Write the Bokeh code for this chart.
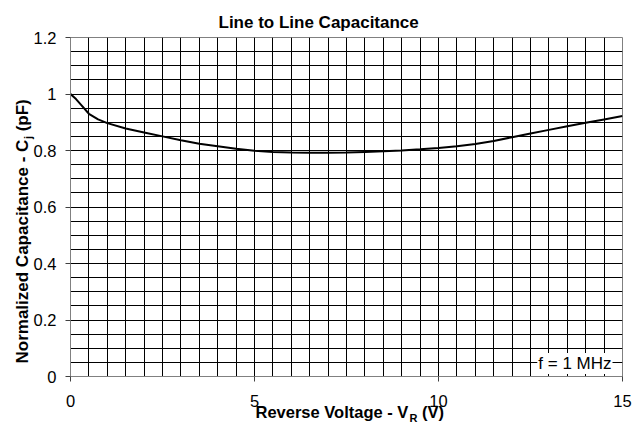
from bokeh.plotting import figure
from bokeh.models import Range1d, FixedTicker, Label, Title
from bokeh.embed import file_html
from bokeh.resources import INLINE

# ---- data ----
voltage = [0, 0.15, 0.3, 0.5, 0.75, 1, 1.5, 2, 2.5, 3, 3.5, 4, 4.5, 5, 5.5, 6,
           6.5, 7, 7.5, 8, 8.5, 9, 9.5, 10, 10.5, 11, 11.5, 12, 12.5, 13, 13.5,
           14, 14.5, 15]
capacitance = [1.0, 0.982, 0.96, 0.93, 0.91, 0.897, 0.878, 0.864, 0.85, 0.836,
               0.824, 0.815, 0.806, 0.799, 0.795, 0.793, 0.792, 0.792, 0.793,
               0.795, 0.797, 0.800, 0.804, 0.809, 0.815, 0.823, 0.834, 0.847,
               0.860, 0.873, 0.886, 0.898, 0.910, 0.922]
x_ticks = [0, 5, 10, 15]
y_ticks = [0, 0.2, 0.4, 0.6, 0.8, 1.0, 1.2]
y_tick_labels = ["0", "0.2", "0.4", "0.6", "0.8", "1", "1.2"]
x_grid_step = 0.5
y_grid_step = 0.05

title_text = "Line to Line Capacitance"
x_label_parts = ["Reverse Voltage - V", "R", "(V)"]
y_label_parts = ["Normalized Capacitance - C", "j", "(pF)"]
note_text = "f = 1 MHz"

FONT = "Liberation Sans"
GRAY = "#808080"

# approximate Arial Bold advance widths (per 1000 em)
BW = {' ': 278, '(': 333, ')': 333, '-': 333, 'C': 722, 'F': 611, 'N': 722,
      'R': 722, 'V': 667, 'a': 556, 'c': 556, 'd': 611, 'e': 556, 'g': 611,
      'i': 278, 'j': 278, 'l': 278, 'm': 889, 'n': 611, 'o': 611, 'p': 611,
      'r': 389, 's': 556, 't': 333, 'v': 556, 'z': 500}


def tw(s, size):
    return sum(BW.get(ch, 556) for ch in s) * size / 1000.0


def th(size):
    # estimated text box height used by Bokeh for a title of this font size
    return 1.15 * size


p = figure(width=644, height=427, output_backend="svg", toolbar_location=None,
           x_range=Range1d(0, 15), y_range=Range1d(0, 1.2),
           min_border_left=70, min_border_right=22, min_border_top=37,
           min_border_bottom=51)
p.background_fill_color = "white"
p.border_fill_color = "white"
p.outline_line_color = GRAY
p.outline_line_width = 1

# grids
nx = int(round(15 / x_grid_step))
ny = int(round(1.2 / y_grid_step))
p.xgrid.ticker = FixedTicker(ticks=[i * x_grid_step for i in range(1, nx)])
p.ygrid.ticker = FixedTicker(ticks=[i * y_grid_step for i in range(1, ny)])
for g in (p.xgrid, p.ygrid):
    g.grid_line_color = "black"
    g.grid_line_width = 1
    g.grid_line_alpha = 1.0

# axes
p.xaxis.ticker = FixedTicker(ticks=x_ticks)
p.yaxis.ticker = FixedTicker(ticks=y_ticks)
p.yaxis.major_label_overrides = {t: l for t, l in zip(y_ticks, y_tick_labels)}
for ax in (p.xaxis, p.yaxis):
    ax.axis_line_color = GRAY
    ax.major_tick_line_color = "#404040"
    ax.minor_tick_line_color = None
    ax.major_tick_in = 0
    ax.major_tick_out = 5
    ax.major_label_text_font = FONT
    ax.major_label_text_font_size = "16.5px"
    ax.major_label_text_color = "black"
p.xaxis.major_label_standoff = 13
p.yaxis.major_label_standoff = 9

# curve
p.line(voltage, capacitance, line_color="black", line_width=2)

# title
p.title.text = title_text
p.title.align = "left"
p.title.offset = 148
p.title.vertical_align = "bottom"
p.title.standoff = 11.4
p.title.text_font = FONT
p.title.text_font_size = "17px"
p.title.text_font_style = "bold"
p.title.text_color = "black"


def piece(text, size, offset, standoff, valign="top"):
    return Title(text=text, align="left", offset=offset, standoff=standoff,
                 vertical_align=valign, text_font=FONT,
                 text_font_size=f"{size}px", text_font_style="bold",
                 text_color="black")


# x axis label, built from pieces (subscript R)
xs = 16.5
xstart = 185.0
wA = tw(x_label_parts[0], xs)
wR = tw(x_label_parts[1], 11)
wsp = tw(" ", xs)
zero_x = -(2 + th(xs))
p.add_layout(piece(" ", 1, 0, 4 - 2 - th(1)), "below")      # 4px spacer
p.add_layout(piece(x_label_parts[0], xs, xstart, zero_x), "below")
p.add_layout(piece(x_label_parts[2], xs, xstart + wA + wR + wsp, zero_x), "below")
p.add_layout(piece(x_label_parts[1], 11, xstart + wA, -3.6), "below")

# y axis label, built from pieces (subscript j)
ys = 17
ystart = 13.0
vA = tw(y_label_parts[0], ys)
vj = tw(y_label_parts[1], 11)
vsp = tw(" ", ys)
zero_y = -(2 + th(ys))
p.add_layout(piece(y_label_parts[1], 11, ystart + vA + 0.5, -7, "bottom"), "left")
p.add_layout(piece(y_label_parts[0], ys, ystart, zero_y), "left")
p.add_layout(piece(y_label_parts[2], ys, ystart + vA + vj + vsp + 0.5, zero_y), "left")

# frequency note with white background
p.add_layout(Label(x=15, y=0, x_offset=-10, y_offset=13, text=note_text,
                   text_font=FONT, text_font_size="17px", text_align="right",
                   text_baseline="middle", text_color="black",
                   background_fill_color="white", padding=1))

open("out.html", "w").write(file_html(p, INLINE))
